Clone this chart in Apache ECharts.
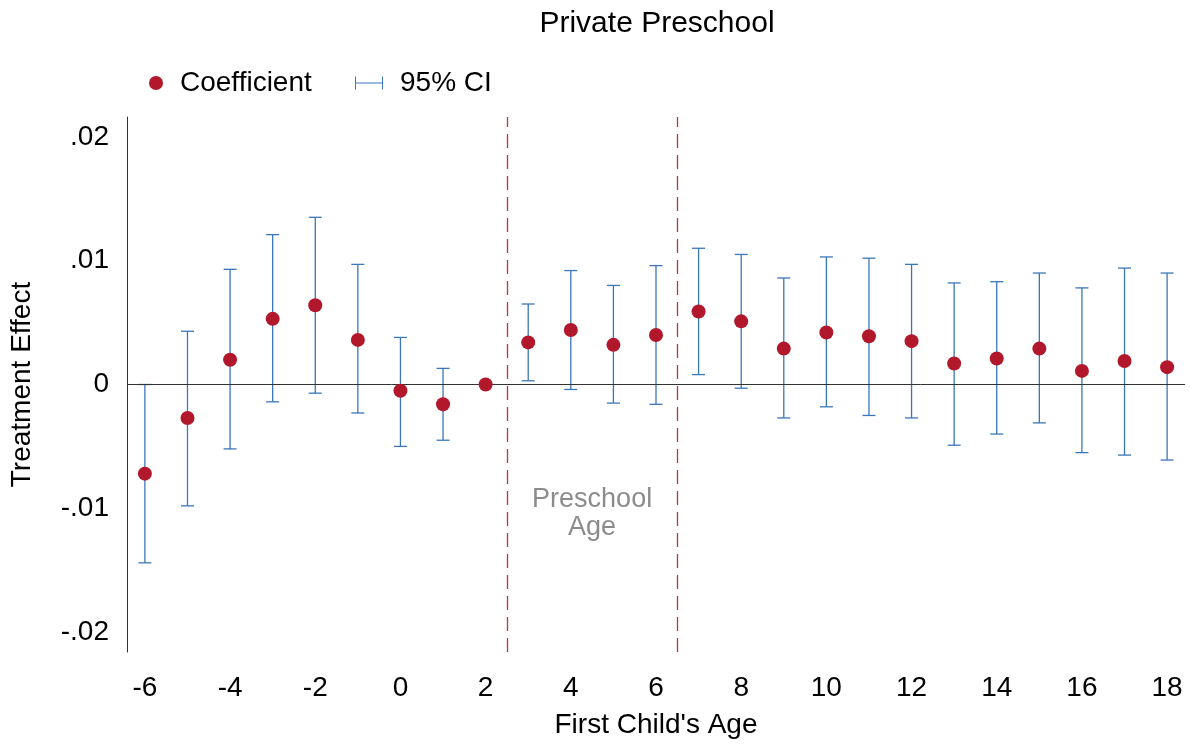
<!DOCTYPE html>
<html>
<head>
<meta charset="utf-8">
<title>Private Preschool</title>
<script src="https://cdn.jsdelivr.net/npm/echarts@6/dist/echarts.min.js"></script>
<style>
  html, body { margin: 0; padding: 0; background: #fff; }
  #chart { width: 1190px; height: 744px; }
</style>
</head>
<body>
<div id="chart"></div>
<script>
// Event-study estimates by age of the first child
const ages = [-6, -5, -4, -3, -2, -1, 0, 1, 2, 3, 4, 5, 6, 7, 8, 9, 10, 11, 12, 13, 14, 15, 16, 17, 18];
const coefficient = [-0.0072, -0.0027, 0.0020, 0.0053, 0.0064, 0.0036, -0.0005, -0.0016, 0.0000,
  0.0034, 0.0044, 0.0032, 0.0040, 0.0059, 0.0051, 0.0029, 0.0042, 0.0039, 0.0035,
  0.0017, 0.0021, 0.0029, 0.0011, 0.0019, 0.0014];
// 95% confidence bounds (age 2 is the reference year, no interval)
const ciLow = [-0.0144, -0.0098, -0.0052, -0.0014, -0.0007, -0.0023, -0.0050, -0.0045, null,
  0.0003, -0.0004, -0.0015, -0.0016, 0.0008, -0.0003, -0.0027, -0.0018, -0.0025, -0.0027,
  -0.0049, -0.0040, -0.0031, -0.0055, -0.0057, -0.0061];
const ciHigh = [0.0000, 0.0043, 0.0093, 0.0121, 0.0135, 0.0097, 0.0038, 0.0013, null,
  0.0065, 0.0092, 0.0080, 0.0096, 0.0110, 0.0105, 0.0086, 0.0103, 0.0102, 0.0097,
  0.0082, 0.0083, 0.0090, 0.0078, 0.0094, 0.0090];
const xTicks = [-6, -4, -2, 0, 2, 4, 6, 8, 10, 12, 14, 16, 18];
const yTicks = [-0.02, -0.01, 0, 0.01, 0.02];
const yTickLabels = ['-.02', '-.01', '0', '.01', '.02'];
const preschoolBounds = [2.5, 6.5];
const preschoolLabel = { x: 4.5, y: -0.0104, text: 'Preschool\nAge' };

const FONT = "'Liberation Sans', Arial, sans-serif";
const DOT = '#b2182b';
const BAR = '#3a77b8';
const LEGEND_TEXT = { fontFamily: FONT, fontSize: 28, color: '#000' };

function legendText(gap) {
  return Object.assign({}, LEGEND_TEXT, {
    rich: { t: Object.assign({}, LEGEND_TEXT, { padding: [0, 0, 0, gap] }) }
  });
}

const ciData = ages
  .map((a, i) => [a, ciLow[i], ciHigh[i]])
  .filter(d => d[1] !== null && d[2] !== null);

function renderErrorBar(params, api) {
  const x = api.value(0);
  const lo = api.coord([x, api.value(1)]);
  const hi = api.coord([x, api.value(2)]);
  const half = 6.5;
  const style = { stroke: BAR, lineWidth: 1.3 };
  return {
    type: 'group',
    children: [
      { type: 'line', shape: { x1: lo[0], y1: lo[1], x2: hi[0], y2: hi[1] }, style },
      { type: 'line', shape: { x1: hi[0] - half, y1: hi[1], x2: hi[0] + half, y2: hi[1] }, style },
      { type: 'line', shape: { x1: lo[0] - half, y1: lo[1], x2: lo[0] + half, y2: lo[1] }, style }
    ]
  };
}

const chart = echarts.init(document.getElementById('chart'), null, { renderer: 'canvas' });

chart.setOption({
  animation: false,
  backgroundColor: '#fff',
  title: {
    text: 'Private Preschool',
    left: 652,
    textAlign: 'center',
    top: 4,
    textStyle: { fontFamily: FONT, fontSize: 30, fontWeight: 'normal', color: '#000' }
  },
  legend: [
    {
      data: [{ name: 'Coefficient', icon: 'circle' }],
      left: 149,
      top: 69,
      padding: 0,
      itemWidth: 24,
      itemHeight: 14,
      selectedMode: false,
      formatter: name => '{t|' + name + '}',
      textStyle: legendText(7)
    },
    {
      data: [{ name: '95% CI', icon: 'path://M0,0h2v26h-2z M0,12h56v2h-56z M54,0h2v26h-2z' }],
      left: 355,
      top: 69,
      padding: 0,
      itemWidth: 28,
      itemHeight: 13,
      selectedMode: false,
      formatter: name => '{t|' + name + '}',
      textStyle: legendText(12)
    }
  ],
  grid: { left: 127, right: 5, top: 117, bottom: 87, containLabel: false },
  xAxis: {
    type: 'value',
    min: -6.42,
    max: 18.42,
    name: "First Child's Age",
    nameLocation: 'middle',
    nameGap: 59,
    nameTextStyle: { fontFamily: FONT, fontSize: 28, color: '#000' },
    axisLine: { show: false },
    axisTick: { show: false },
    splitLine: { show: false },
    axisLabel: {
      customValues: xTicks,
      margin: 22,
      fontFamily: FONT,
      fontSize: 28,
      color: '#000',
      formatter: v => String(v)
    }
  },
  yAxis: {
    type: 'value',
    min: -0.0216,
    max: 0.0216,
    name: 'Treatment Effect',
    nameLocation: 'middle',
    nameGap: 91,
    nameTextStyle: { fontFamily: FONT, fontSize: 28, color: '#000' },
    axisLine: { show: true, onZero: false, lineStyle: { color: '#333', width: 1 } },
    axisTick: { show: false },
    splitLine: { show: false },
    axisLabel: {
      customValues: yTicks,
      margin: 18,
      fontFamily: FONT,
      fontSize: 28,
      color: '#000',
      formatter: v => {
        const i = yTicks.findIndex(t => Math.abs(t - v) < 1e-9);
        return i >= 0 ? yTickLabels[i] : '';
      }
    }
  },
  series: [
    {
      name: '95% CI',
      type: 'custom',
      renderItem: renderErrorBar,
      itemStyle: { color: BAR },
      data: ciData,
      encode: { x: 0, y: [1, 2] },
      z: 3,
      silent: true,
      markLine: {
        silent: true,
        symbol: 'none',
        label: { show: false },
        emphasis: { disabled: true },
        data: [
          { yAxis: 0, lineStyle: { color: '#333', width: 1, type: 'solid' } },
          ...preschoolBounds.map(b => ({
            xAxis: b,
            lineStyle: { color: '#c0304a', width: 1.3, type: [14, 7], opacity: 1 }
          }))
        ]
      }
    },
    {
      name: 'Coefficient',
      type: 'scatter',
      symbol: 'circle',
      symbolSize: 14,
      itemStyle: { color: DOT, opacity: 1 },
      data: ages.map((a, i) => [a, coefficient[i]]),
      z: 5,
      silent: true
    },
    {
      name: 'note',
      type: 'scatter',
      symbolSize: 1,
      itemStyle: { color: 'transparent' },
      silent: true,
      data: [[preschoolLabel.x, preschoolLabel.y]],
      label: {
        show: true,
        position: 'inside',
        formatter: preschoolLabel.text,
        fontFamily: FONT,
        fontSize: 27,
        lineHeight: 28,
        color: '#6e6e6e',
        align: 'center',
        verticalAlign: 'middle'
      }
    }
  ]
});
</script>
</body>
</html>
